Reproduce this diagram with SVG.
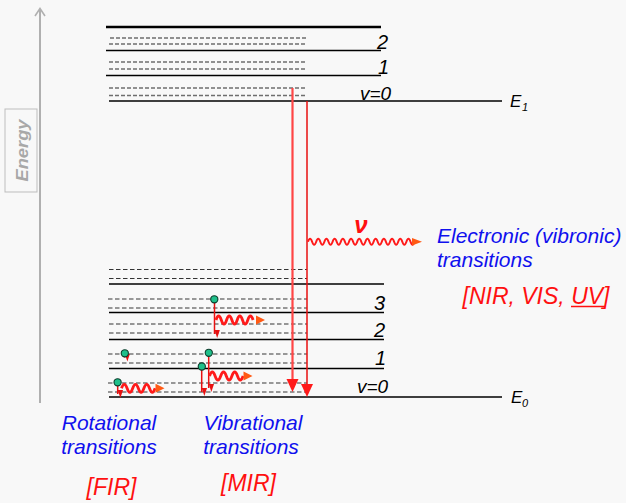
<svg xmlns="http://www.w3.org/2000/svg" width="626" height="503" viewBox="0 0 626 503">
  <style>
    .lvl { stroke: #000; stroke-width: 1.3; fill: none; }
    .lvl-top { stroke: #000; stroke-width: 2.4; fill: none; }
    .sub { stroke: #6e6e6e; stroke-width: 1.5; stroke-dasharray: 4 2; fill: none; }
    .sub-dark { stroke: #333; stroke-width: 1.1; stroke-dasharray: 4.5 2.5; fill: none; }
    .sub-gray { stroke: #777; stroke-width: 1.7; stroke-dasharray: 4.5 2.5; fill: none; }
    .num { font-family: "Liberation Sans", Arial, sans-serif; font-style: italic; font-size: 20px; fill: #000; }
    .vnum { font-family: "Liberation Sans", Arial, sans-serif; font-style: italic; font-size: 19px; fill: #000; }
    .elab { font-family: "Liberation Sans", Arial, sans-serif; font-style: italic; font-size: 17px; fill: #000; }
    .esub { font-family: "Liberation Sans", Arial, sans-serif; font-style: italic; font-size: 11px; fill: #000; }
    .blue { font-family: "Liberation Sans", Arial, sans-serif; font-style: italic; font-size: 21px; fill: #1010ee; }
    .red { font-family: "Liberation Sans", Arial, sans-serif; font-style: italic; font-size: 23px; fill: #ff1010; }
    .wave { stroke: #ff1a1a; stroke-width: 2.8; fill: none; stroke-linejoin: round; }
    .wave-thin { stroke: #ff1a1a; stroke-width: 2; fill: none; }
    .drop { stroke: #e81010; stroke-width: 1.5; fill: none; }
    .dot { fill: #1fbf8a; stroke: #0d3d2c; stroke-width: 1.1; }
    .tip { fill: #ff5a14; }
  </style>
  <defs>
    <marker id="smallHead" markerUnits="userSpaceOnUse" markerWidth="8" markerHeight="8" refX="3" refY="5" orient="auto-start-reverse" viewBox="0 0 6 6">
      <path d="M0,1 L6,3 L0,5 Z" fill="#e81010"/>
    </marker>
  </defs>

  <rect x="0" y="0" width="626" height="503" fill="#f8f8f8"/>

  <!-- energy axis -->
  <g id="energy-axis">
    <line x1="40" y1="9" x2="40" y2="403" stroke="#b0b0b0" stroke-width="2"/>
    <path d="M35,16 L40,8.5 L45,16" stroke="#b0b0b0" stroke-width="1.6" fill="none"/>
    <rect x="5" y="109" width="32" height="83" fill="none" stroke="#bdbdbd" stroke-width="1"/>
    <text transform="translate(28,150.5) rotate(-90)" text-anchor="middle" font-family="Liberation Sans, Arial, sans-serif" font-style="italic" font-weight="bold" font-size="17" fill="#a8a8a8" textLength="62" lengthAdjust="spacingAndGlyphs">Energy</text>
  </g>

  <!-- excited electronic state E1 -->
  <g id="state-E1">
    <line class="lvl-top" x1="106" y1="27" x2="381" y2="27"/>
    <line class="sub" x1="110" y1="38" x2="307" y2="38"/>
    <line class="sub" x1="109" y1="44" x2="307" y2="44"/>
    <line class="lvl" x1="106" y1="50.5" x2="381" y2="50.5"/>
    <line class="sub" x1="109" y1="62" x2="307" y2="62"/>
    <line class="sub" x1="109" y1="69" x2="307" y2="69"/>
    <line class="lvl" x1="106" y1="75.5" x2="381" y2="75.5"/>
    <line class="sub" x1="109" y1="88" x2="307" y2="88"/>
    <line class="sub" x1="109" y1="95.5" x2="307" y2="95.5"/>
    <line class="lvl" x1="109" y1="101" x2="502" y2="101"/>
    <text class="num" x="377" y="49">2</text>
    <text class="num" x="378" y="74">1</text>
    <text class="vnum" x="360" y="100">v=0</text>
    <text class="elab" x="510" y="107">E</text>
    <text class="esub" x="522" y="111">1</text>
  </g>

  <!-- ground electronic state E0 -->
  <g id="state-E0">
    <line class="sub-dark" x1="109" y1="269.5" x2="307" y2="269.5"/>
    <line class="sub-dark" x1="109" y1="278.5" x2="307" y2="278.5"/>
    <line class="lvl" x1="109" y1="284" x2="384" y2="284"/>
    <line class="sub-gray" x1="108" y1="299" x2="307" y2="299"/>
    <line class="sub-gray" x1="108" y1="308" x2="307" y2="308"/>
    <line class="lvl" x1="109" y1="312.5" x2="384" y2="312.5"/>
    <line class="sub-dark" x1="109" y1="324" x2="307" y2="324"/>
    <line class="sub-dark" x1="109" y1="333" x2="307" y2="333"/>
    <line class="lvl" x1="109" y1="339.5" x2="384" y2="339.5"/>
    <line class="sub-gray" x1="108" y1="354" x2="307" y2="354"/>
    <line class="sub-gray" x1="108" y1="363" x2="307" y2="363"/>
    <line class="lvl" x1="109" y1="368.5" x2="384" y2="368.5"/>
    <line class="sub-gray" x1="108" y1="383" x2="307" y2="383"/>
    <line class="sub-gray" x1="108" y1="392" x2="307" y2="392"/>
    <line class="lvl" x1="109" y1="397" x2="502" y2="397"/>
    <text class="num" x="374" y="310">3</text>
    <text class="num" x="374" y="337">2</text>
    <text class="num" x="375" y="365">1</text>
    <text class="vnum" x="357" y="393">v=0</text>
    <text class="elab" x="511" y="403">E</text>
    <text class="esub" x="522" y="407">0</text>
  </g>

  <g id="connectors">
    <!-- electronic emission -->
    <line x1="292.5" y1="88" x2="292.5" y2="381" stroke="#ff4646" stroke-width="2.2"/>
    <polygon points="286.5,379 298.5,379 292.5,392" fill="#ff1a1a"/>
    <line x1="307" y1="101" x2="307" y2="386" stroke="#e81010" stroke-width="1.5"/>
    <polygon points="301,384 313,384 307,397" fill="#ff1a1a"/>
    <path class="wave-thin" d="M308,241.7 q2.05,-6 4.1,0 t4.1,0 t4.1,0 t4.1,0 t4.1,0 t4.1,0 t4.1,0 t4.1,0 t4.1,0 t4.1,0 t4.1,0 t4.1,0 t4.1,0 t4.1,0 t4.1,0 t4.1,0 t4.1,0 t4.1,0 t4.1,0 t4.1,0 t4.1,0 t4.1,0 t4.1,0 t4.1,0 t4.1,0 t4.1,0"/>
    <polygon class="tip" points="412,238 422,241.7 412,245.4"/>

    <!-- vibrational relaxation from v=3 -->
    <line class="drop" x1="214.5" y1="303" x2="214.5" y2="334" marker-end="url(#smallHead)"/>
    <path class="wave" d="M216,320 q2.6,-8 5.3,0 t5.3,0 t5.3,0 t5.3,0 t5.3,0 t5.3,0 t5.3,0"/>
    <polygon class="tip" points="256,315.5 265,320 256,324.5"/>

    <!-- rotational step at v=1 -->
    <line class="drop" x1="124.7" y1="357" x2="124.7" y2="357.5" marker-end="url(#smallHead)"/>

    <!-- vibrational relaxation from v=1 -->
    <line class="drop" x1="208.7" y1="357" x2="208.7" y2="388" marker-end="url(#smallHead)"/>
    <line class="drop" x1="201.7" y1="370" x2="201.7" y2="392" marker-end="url(#smallHead)"/>
    <path class="wave" d="M209.5,376 q2.8,-8 5.6,0 t5.6,0 t5.6,0 t5.6,0 t5.6,0 t5.6,0"/>
    <polygon class="tip" points="243.5,371.5 252.5,376 243.5,380.5"/>

    <!-- rotational relaxation at v=0 -->
    <line class="drop" x1="117.7" y1="386" x2="117.7" y2="394" marker-end="url(#smallHead)"/>
    <path class="wave" d="M121.5,388.3 q2.8,-8 5.6,0 t5.6,0 t5.6,0 t5.6,0 t5.6,0 t5.6,0"/>
    <polygon class="tip" points="155.5,383.8 164.5,388.3 155.5,392.8"/>
  </g>

  <!-- molecules -->
  <g id="molecules">
    <circle class="dot" cx="214.3" cy="299.3" r="3.6"/>
    <circle class="dot" cx="124.8" cy="353.3" r="3.6"/>
    <circle class="dot" cx="208.8" cy="352.8" r="3.6"/>
    <circle class="dot" cx="201.8" cy="366.5" r="3.6"/>
    <circle class="dot" cx="117.6" cy="382.3" r="3.6"/>
  </g>

  <!-- labels -->
  <g id="label-electronic">
    <text x="361" y="233" text-anchor="middle" font-family="Liberation Sans, Arial, sans-serif" font-style="italic" font-weight="bold" font-size="24" fill="#ff1010">ν</text>
    <text class="blue" x="437" y="242.5">Electronic (vibronic)</text>
    <text class="blue" x="437" y="266.5">transitions</text>
    <text class="red" x="536" y="304" text-anchor="middle">[NIR, VIS, UV]</text>
    <line x1="571" y1="306.5" x2="605" y2="306.5" stroke="#ff1010" stroke-width="1.6"/>
  </g>
  <g id="label-rotational">
    <text class="blue" x="109" y="430" text-anchor="middle">Rotational</text>
    <text class="blue" x="109" y="454" text-anchor="middle">transitions</text>
    <text class="red" x="111.5" y="495" text-anchor="middle">[FIR]</text>
  </g>
  <g id="label-vibrational">
    <text class="blue" x="253" y="430" text-anchor="middle">Vibrational</text>
    <text class="blue" x="251" y="454" text-anchor="middle">transitions</text>
    <text class="red" x="248.5" y="491" text-anchor="middle">[MIR]</text>
  </g>
</svg>
